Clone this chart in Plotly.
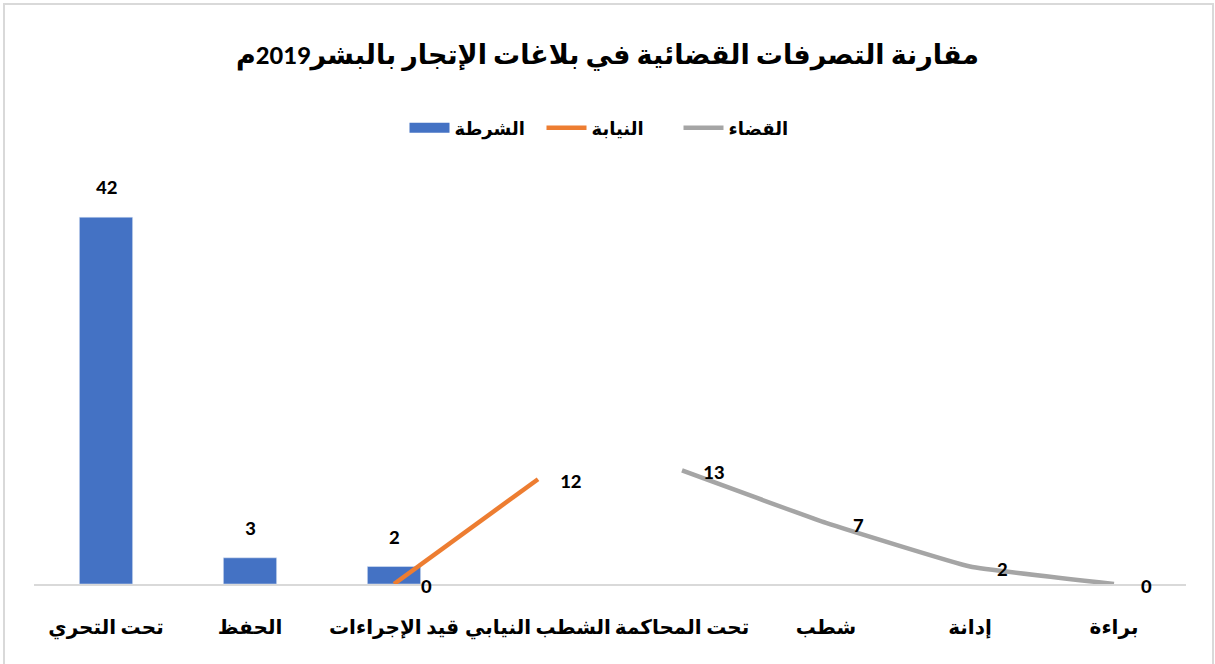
import plotly.graph_objects as go

categories = ["تحت التحري", "الحفظ", "قيد الإجراءات", "الشطب النيابي",
              "تحت المحاكمة", "شطب", "إدانة", "براءة"]
police = [42, 3, 2, None, None, None, None, None]
prosecution = [None, None, 0, 12, None, None, None, None]
judiciary = [None, None, None, None, 13, 7, 2, 0]

series_names = ["الشرطة", "النيابة", "القضاء"]
title_text = "مقارنة التصرفات القضائية في بلاغات الإتجار بالبشر2019م"

FONT = "Calibri, Carlito, 'Liberation Sans', 'DejaVu Sans', sans-serif"
W, H = 1215, 664
L, R, T, B = 34, 29, 191, 80
PW, PH = W - L - R, H - T - B

fig = go.Figure()
# legend entry for the bar series drawn as a wide block
fig.add_trace(go.Scatter(x=[None], y=[None], name=f"<b>{series_names[0]}</b>",
                         mode="lines", line=dict(color="#4472C4", width=12)))
fig.add_trace(go.Bar(x=categories, y=police, name=series_names[0],
                     marker_color="#4472C4", width=0.37, showlegend=False))
fig.add_trace(go.Scatter(x=categories, y=prosecution, name=f"<b>{series_names[1]}</b>",
                         mode="lines", line=dict(color="#ED7D31", width=4.5),
                         connectgaps=False))
fig.add_trace(go.Scatter(x=categories, y=judiciary, name=f"<b>{series_names[2]}</b>",
                         mode="lines", line=dict(color="#A5A5A5", width=4.5,
                                                 shape="spline", smoothing=0.3),
                         connectgaps=False))

annotations = []
for c, v in zip(categories, police):
    if v is not None:
        annotations.append(dict(x=c, y=v, text=f"<b>{v}</b>", showarrow=False,
                                yshift=30, font=dict(size=21, color="#000000", family=FONT)))
for series in (prosecution, judiciary):
    for c, v in zip(categories, series):
        if v is not None:
            annotations.append(dict(x=c, y=v, text=f"<b>{v}</b>", showarrow=False,
                                    xshift=32, yshift=-2,
                                    font=dict(size=21, color="#000000", family=FONT)))

fig.update_layout(
    width=W, height=H,
    margin=dict(l=L, r=R, t=T, b=B),
    paper_bgcolor="#FFFFFF", plot_bgcolor="#FFFFFF",
    title=dict(text=f"<b>{title_text}</b>", x=0.5, xanchor="center",
               y=1 - 55 / H, yanchor="middle",
               font=dict(size=27, color="#000000", family=FONT)),
    legend=dict(orientation="h", x=0.5, xanchor="center",
                y=(H - B - 128) / PH, yanchor="middle",
                font=dict(size=18, color="#000000", family=FONT),
                itemwidth=40, entrywidth=82, entrywidthmode="pixels",
                traceorder="normal"),
    showlegend=True,
    annotations=annotations,
)
fig.update_xaxes(type="category", showgrid=False, zeroline=False,
                 showline=True, linecolor="#D9D9D9", linewidth=2,
                 ticks="", ticklabelstandoff=24,
                 tickfont=dict(size=20, color="#000000", family=FONT),
                 tickprefix="<b>", ticksuffix="</b>")
fig.update_yaxes(range=[0, 45], showgrid=False, zeroline=False,
                 showticklabels=False, showline=False)

fig.add_shape(type="rect", xref="paper", yref="paper",
              x0=(4 - L) / PW, x1=(W - 2 - L) / PW,
              y0=(H - B - 670) / PH, y1=(H - B - 4) / PH,
              line=dict(color="#D9D9D9", width=2), fillcolor="rgba(0,0,0,0)",
              layer="below")

fig.write_html("out.html", config={"displayModeBar": False},
               post_script="document.body.style.margin='0px';document.body.style.overflow='hidden';")
